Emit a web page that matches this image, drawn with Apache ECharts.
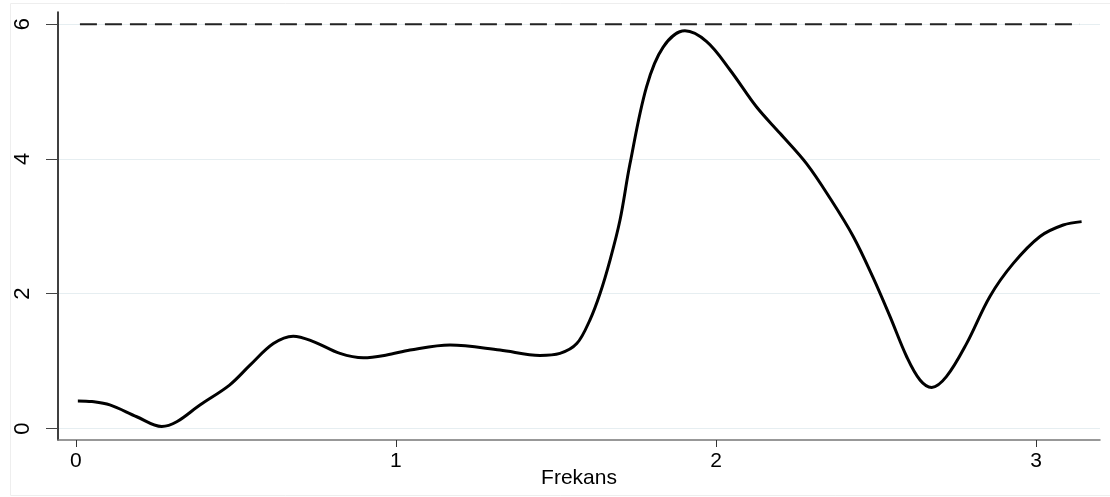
<!DOCTYPE html>
<html>
<head>
<meta charset="utf-8">
<script src="https://cdn.jsdelivr.net/npm/echarts@6/dist/echarts.min.js"></script>
<style>html,body{margin:0;padding:0;background:#fff}#c{width:1110px;height:497px}</style>
</head>
<body>
<div id="c"></div>
<script>
// Data
var freq = [0.006,0.05,0.106,0.19,0.268,0.315,0.3875,0.48,0.544,0.617,0.679,0.742,0.825,0.898,0.971,1.044,1.169,1.325,1.45,1.5125,1.565,1.606,1.6375,1.669,1.7,1.731,1.783,1.835,1.903,1.971,2.044,2.127,2.2,2.283,2.356,2.429,2.49,2.544,2.596,2.6375,2.674,2.72,2.783,2.856,2.929,3.0125,3.085,3.1425];
var density = [0.41,0.40,0.35,0.175,0.03,0.10,0.35,0.645,0.94,1.26,1.37,1.29,1.115,1.05,1.09,1.165,1.24,1.165,1.085,1.115,1.26,1.61,2.0,2.5,3.09,3.92,5.07,5.66,5.90,5.74,5.32,4.77,4.38,3.93,3.42,2.85,2.25,1.66,1.065,0.72,0.61,0.77,1.26,1.96,2.45,2.85,3.02,3.07];
var refLevel = 6;
var refRange = [0.0125, 3.1375];
var xTicks = [0, 1, 2, 3];
var yTicks = [0, 2, 4, 6];
var xTitle = 'Frekans';

var curve = freq.map(function (f, i) { return [f, density[i]]; });
var refLine = refRange.map(function (f) { return [f, refLevel]; });

var chart = echarts.init(document.getElementById('c'), null, {renderer: 'canvas'});
chart.setOption({
  backgroundColor: '#fff',
  animation: false,
  graphic: [{
    type: 'rect', silent: true, z: -10,
    shape: {x: 10.5, y: 3.5, width: 1110, height: 492},
    style: {fill: 'none', stroke: '#eeeeee', lineWidth: 1}
  }],
  grid: {left: 58, top: 12, right: 10, bottom: 57, containLabel: false, outerBoundsMode: 'none'},
  xAxis: {
    type: 'value',
    min: -0.056, max: 3.2,
    name: xTitle,
    nameLocation: 'middle',
    nameGap: 28,
    nameMoveOverlap: false,
    nameTextStyle: {fontFamily: 'Liberation Sans', fontSize: 21, color: '#000'},
    axisLine: {show: true, onZero: false, lineStyle: {color: '#777', width: 1.5}},
    axisTick: {show: true, customValues: xTicks, length: 7, lineStyle: {color: '#333', width: 1}},
    axisLabel: {show: true, customValues: xTicks, margin: 11, fontFamily: 'Liberation Sans', fontSize: 21, color: '#000'},
    splitLine: {show: false}
  },
  yAxis: {
    type: 'value',
    min: -0.17, max: 6.18,
    axisLine: {show: true, onZero: false, lineStyle: {color: '#000', width: 1.5}},
    axisTick: {show: true, customValues: yTicks, length: 12, lineStyle: {color: '#444', width: 1}},
    axisLabel: {show: true, customValues: yTicks, rotate: 90, margin: 24, fontFamily: 'Liberation Sans', fontSize: 22, color: '#000'},
    splitLine: {show: true, lineStyle: {color: '#e6eef1', width: 1.2}}
  },
  series: [
    {
      type: 'line',
      data: refLine,
      symbol: 'none',
      lineStyle: {color: '#222', width: 2, type: [17, 8]},
      z: 3
    },
    {
      type: 'line',
      data: curve,
      symbol: 'none',
      smooth: 0.35,
      lineStyle: {color: '#000', width: 3},
      z: 4
    }
  ]
});
</script>
</body>
</html>
